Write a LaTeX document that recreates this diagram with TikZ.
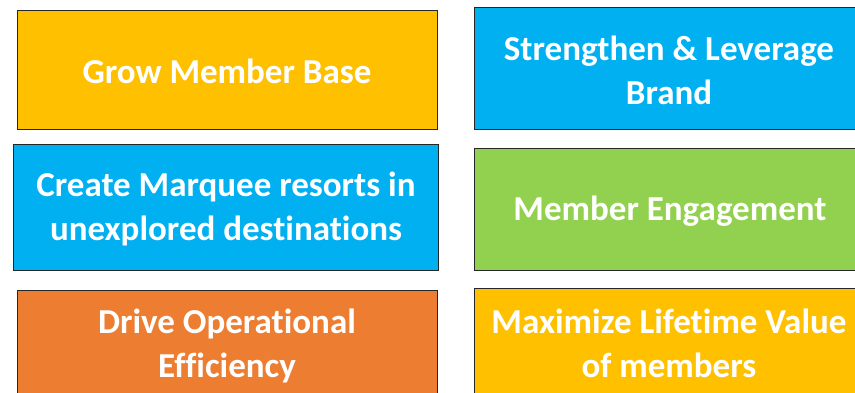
\documentclass[tikz,border=0pt]{standalone}
\usepackage{fontspec}
\setmainfont{Carlito}[Ligatures={NoCommon,NoRare,NoContextual}]
\definecolor{cgold}{HTML}{FFC000}
\definecolor{cblue}{HTML}{00B0F0}
\definecolor{cgreen}{HTML}{92D050}
\definecolor{corange}{HTML}{ED7D31}
\begin{document}
\begin{tikzpicture}[x=1pt,y=-1pt,
  goalbox/.style={draw=black!85,line width=1pt,inner sep=0pt},
  goaltext/.style={text=white,align=center,inner sep=0pt,
    font=\fontsize{35}{44}\selectfont\bfseries}]
\useasboundingbox (0,0) rectangle (855,392);
\clip (0,0) rectangle (855,392);
% boxes
\path[goalbox,fill=cgold]   (17,10)   rectangle (437,129) coordinate (b1);
\path[goalbox,fill=cblue]   (474,7)   rectangle (864,129) coordinate (b2);
\path[goalbox,fill=cblue]   (13,144)  rectangle (438,270) coordinate (b3);
\path[goalbox,fill=cgreen]  (474,148) rectangle (864,270) coordinate (b4);
\path[goalbox,fill=corange] (17,290)  rectangle (437,404) coordinate (b5);
\path[goalbox,fill=cgold]   (474,288) rectangle (864,404) coordinate (b6);
% texts
\node[goaltext] (t1) at (227,71)  {Grow Member Base};
\node[goaltext] (t2) at (669,70)  {Strengthen \& Leverage\\Brand};
\node[goaltext] (t3) at (226,209) {Create Marquee resorts in\\unexplored destinations};
\node[goaltext] (t4) at (670,211) {Member Engagement};
\node[goaltext] (t5) at (227,346) {Drive Operational\\Efficiency};
\node[goaltext] (t6) at (669,343) {Maximize Lifetime Value\\of members};
\end{tikzpicture}
\end{document}
